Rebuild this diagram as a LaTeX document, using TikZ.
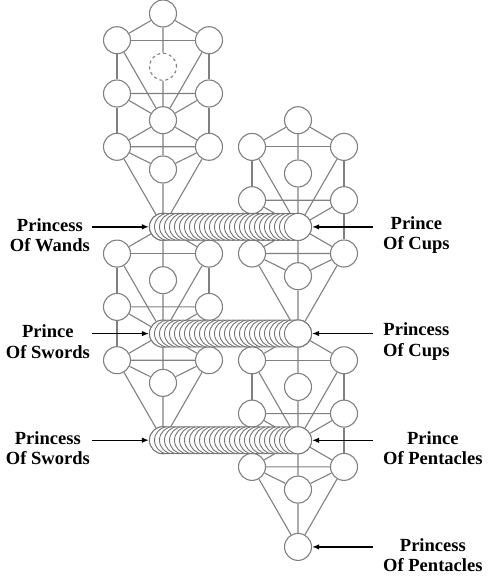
\documentclass[tikz,border=0pt]{standalone}
\usepackage{fontspec}
\setmainfont{Liberation Serif}
\usetikzlibrary{arrows.meta,backgrounds,calc}

\tikzset{
  sephira/.style={circle,draw=black!50,fill=white,line width=1.1bp,minimum size=27bp,inner sep=0pt},
  channel/.style={draw=black!50,line width=1.1bp},
  tube/.style={draw=black!55,fill=white,line width=0.9bp},
  suit/.style={font=\bfseries\fontsize{18.6}{20.5}\selectfont,align=center,inner sep=2bp},
  pointer/.style={-{Latex[length=7bp,width=5.5bp]},line width=1.4bp}
}

% one tree: prefix, x of the middle pillar, y of the crown, style of daath
\newcommand{\sephtree}[4]{%
  \node[sephira] (#1k) at (#2,#3) {};
  \node[sephira] (#1bi) at (#2-46,#3+26.7) {};
  \node[sephira] (#1ch) at (#2+46,#3+26.7) {};
  \node[sephira,#4] (#1da) at (#2,#3+53.3) {};
  \node[sephira] (#1ge) at (#2-46,#3+80) {};
  \node[sephira] (#1che) at (#2+46,#3+80) {};
  \node[sephira] (#1ti) at (#2,#3+106.7) {};
  \node[sephira] (#1ho) at (#2-46,#3+133.3) {};
  \node[sephira] (#1ne) at (#2+46,#3+133.3) {};
  \node[sephira] (#1ye) at (#2,#3+156) {};
  \node[sephira] (#1ma) at (#2,#3+213.3) {};
  \begin{pgfonlayer}{background}
    \draw[channel] (#1k) -- (#1bi) (#1k) -- (#1ch) (#1k) -- (#1da) (#1da) -- (#1ti);
    \draw[channel] (#1bi) -- (#1ch) (#1bi) -- (#1ge) (#1ch) -- (#1che);
    \draw[channel] (#1bi) -- (#1ti) (#1ch) -- (#1ti);
    \draw[channel] (#1ge) -- (#1che) (#1ge) -- (#1ti) (#1che) -- (#1ti);
    \draw[channel] (#1ge) -- (#1ho) (#1che) -- (#1ne);
    \draw[channel] (#1ti) -- (#1ho) (#1ti) -- (#1ne) (#1ti) -- (#1ye);
    \draw[channel] (#1ho) -- (#1ne) (#1ho) -- (#1ye) (#1ne) -- (#1ye);
    \draw[channel] (#1ho) -- (#1ma) (#1ne) -- (#1ma) (#1ye) -- (#1ma);
  \end{pgfonlayer}
}

\begin{document}
\begin{tikzpicture}[x=1bp,y=-1bp]
  \useasboundingbox (0,0) rectangle (488,577);

  \sephtree{a}{163}{13.5}{dashed}
  \sephtree{b}{298}{120.2}{}
  \sephtree{c}{163}{226.9}{}
  \sephtree{d}{298}{333.6}{}

  % the three tubes
  \foreach \i in {0,...,27}
    \draw[tube] ($(ama)!\i/27!(bti)$) circle[radius=13.5bp];
  \foreach \i in {0,...,27}
    \draw[tube] ($(cti)!\i/27!(bma)$) circle[radius=13.5bp];
  \foreach \i in {0,...,27}
    \draw[tube] ($(cma)!\i/27!(dti)$) circle[radius=13.5bp];

  \node[suit,anchor=east] (pwands) at (92,235) {Princess\\Of Wands};
  \node[suit,anchor=east] (pswords) at (92,341.5) {Prince\\Of Swords};
  \node[suit,anchor=east] (psswords) at (92,448) {Princess\\Of Swords};
  \node[suit,anchor=west] (pcups) at (381,235) {Prince\\Of Cups};
  \node[suit,anchor=west] (pscups) at (381,341.5) {Princess\\Of Cups};
  \node[suit,anchor=west] (ppent) at (381,448) {Prince\\Of Pentacles};
  \node[suit,anchor=west] (pspent) at (381,555) {Princess\\Of Pentacles};

  \draw[pointer] (pwands.east |- ama) -- (ama.west);
  \draw[pointer] (pswords.east |- cti) -- (cti.west);
  \draw[pointer] (psswords.east |- cma) -- (cma.west);
  \draw[pointer] ([xshift=-8bp]pcups.west |- bti) -- (bti.east);
  \draw[pointer] ([xshift=-8bp]pscups.west |- bma) -- (bma.east);
  \draw[pointer] ([xshift=-8bp]ppent.west |- dti) -- (dti.east);
  \draw[pointer] ([xshift=-8bp]pspent.west |- dma) -- (dma.east);
\end{tikzpicture}
\end{document}
